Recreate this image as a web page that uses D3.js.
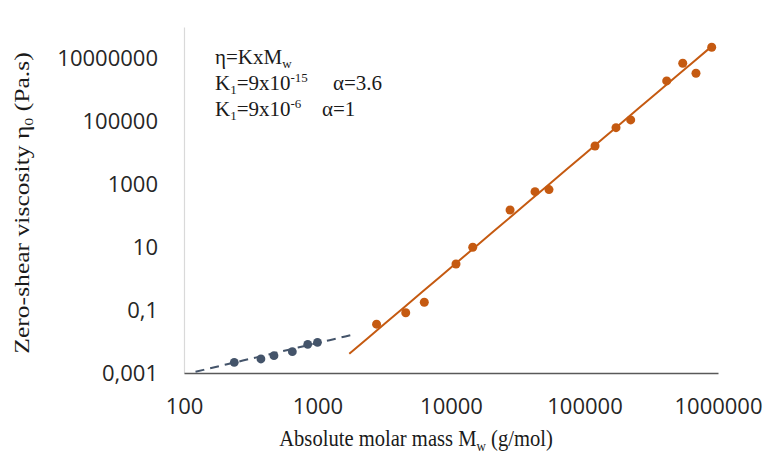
<!DOCTYPE html>
<html>
<head>
<meta charset="utf-8">
<script src="https://cdn.jsdelivr.net/npm/d3@7"></script>
<style>
  body { margin: 0; background: #fff; }
  .tick text { font-family: "Open Sans", sans-serif; font-size: 22px; fill: #262626; }
  .title { font-family: "Liberation Serif", "Times New Roman", serif; fill: #1a1a1a; }
</style>
</head>
<body>
<svg id="chart" width="768" height="455"></svg>
<script>
// Unentangled regime: molar mass (g/mol) and zero-shear viscosity (Pa.s)
const lowMass = [238, 377, 472, 648, 845, 1000];
const lowVisc = [0.00219, 0.00279, 0.00355, 0.00475, 0.00818, 0.00946];

// Entangled regime
const highMass = [2770, 4580, 6310, 10900, 14550, 27700, 42600, 54200,
                  119900, 172200, 221800, 412800, 544400, 684000, 897000];
const highVisc = [0.0357, 0.0826, 0.177, 2.92, 9.93, 152, 582, 678,
                  16500, 63100, 111000, 1.93e6, 7.03e6, 3.38e6, 2.27e7];

// Power-law fits  eta = K * Mw^alpha  and the mass range each one spans
const lowFit  = { K: 9e-6,  alpha: 1,   from: 122,  to: 1850 };
const highFit = { K: 9e-15, alpha: 3.6, from: 1730, to: 897000 };

const xTicks = [100, 1000, 10000, 100000, 1000000];
const yTicks = [0.001, 0.1, 10, 1000, 100000, 10000000];

const svg = d3.select("#chart");
const plot = { left: 184, right: 718, top: 27, bottom: 373 };

const x = d3.scaleLog().domain([100, 1e6]).range([plot.left, plot.right]);
const y = d3.scaleLog().domain([1e-3, 1e8]).range([plot.bottom, plot.top]);

const locale = d3.formatLocale({ decimal: ",", thousands: "", grouping: [3], currency: ["", ""] });
const fmt = locale.format("~f");

// Axes
const yAxis = svg.append("g")
  .attr("transform", `translate(${plot.left},0)`)
  .call(d3.axisLeft(y).tickValues(yTicks).tickFormat(fmt).tickSize(0).tickPadding(26));
yAxis.select(".domain").attr("stroke", "#d9d9d9").attr("stroke-width", 1.2);

const xAxis = svg.append("g")
  .attr("transform", `translate(0,${plot.bottom})`)
  .call(d3.axisBottom(x).tickValues(xTicks).tickFormat(fmt).tickSize(0).tickPadding(25));
xAxis.select(".domain").attr("stroke", "#595959").attr("stroke-width", 1.4);

// Fit lines
const line = d3.line().x(d => x(d[0])).y(d => y(d[1]));
function fitPoints(f) {
  const lm = d3.scaleLog().domain([f.from, f.to]);
  return d3.range(0, 1.0001, 0.05).map(t => {
    const m = lm.invert(t);
    return [m, f.K * Math.pow(m, f.alpha)];
  });
}

const blue = "#44546a", orange = "#c55a11";

// Markers
svg.append("g").selectAll("circle")
  .data(d3.zip(lowMass, lowVisc))
  .join("circle")
  .attr("cx", d => x(d[0])).attr("cy", d => y(d[1])).attr("r", 4.4)
  .attr("fill", blue);

svg.append("g").selectAll("circle")
  .data(d3.zip(highMass, highVisc))
  .join("circle")
  .attr("cx", d => x(d[0])).attr("cy", d => y(d[1])).attr("r", 4.5)
  .attr("fill", orange);

svg.append("path")
  .attr("d", line(fitPoints(lowFit)))
  .attr("fill", "none").attr("stroke", blue)
  .attr("stroke-width", 2).attr("stroke-dasharray", "9,6");

svg.append("path")
  .attr("d", line(fitPoints(highFit)))
  .attr("fill", "none").attr("stroke", orange)
  .attr("stroke-width", 2);

// Axis titles (tall, narrow serif lettering)
const xt = svg.append("text").attr("class", "title")
  .attr("transform", "translate(416,446) scale(1,1.16)")
  .attr("text-anchor", "middle").attr("font-size", 20.6);
xt.append("tspan").text("Absolute molar mass M");
xt.append("tspan").attr("font-size", 13).attr("dy", 4).text("w");
xt.append("tspan").attr("dy", -4).text(" (g/mol)");

const yt = svg.append("text").attr("class", "title")
  .attr("transform", "translate(29,203) rotate(-90) scale(1.22,1)")
  .attr("text-anchor", "middle").attr("font-size", 21);
yt.append("tspan").text("Zero-shear viscosity η");
yt.append("tspan").attr("font-size", 13).attr("dy", 4).text("0");
yt.append("tspan").attr("dy", -4).text(" (Pa.s)");

// Fit annotation
const note = svg.append("g").attr("class", "title").attr("font-size", 21);
const l1 = note.append("text").attr("x", 215).attr("y", 64);
l1.append("tspan").text("η=KxM");
l1.append("tspan").attr("font-size", 13).attr("dy", 4).text("w");

function kLine(yPos, exp, alphaText, alphaX) {
  const t = note.append("text").attr("x", 215).attr("y", yPos);
  t.append("tspan").text("K");
  t.append("tspan").attr("font-size", 13).attr("dy", 4).text("1");
  t.append("tspan").attr("dy", -4).text("=9x10");
  t.append("tspan").attr("font-size", 13).attr("dy", -8).text(exp);
  note.append("text").attr("x", alphaX).attr("y", yPos).text(alphaText);
}
kLine(90, "-15", "α=3.6", 333);
kLine(116, "-6", "α=1", 322);
</script>
</body>
</html>
